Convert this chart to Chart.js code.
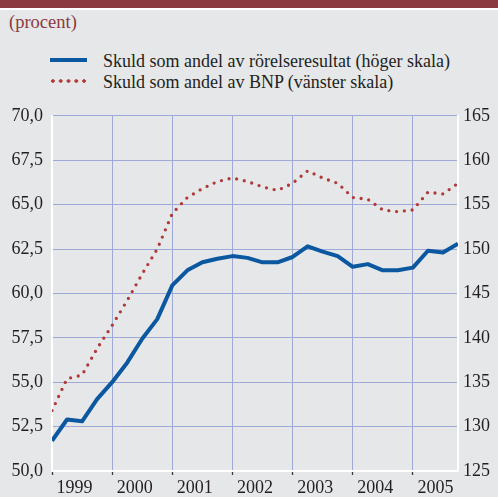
<!DOCTYPE html>
<html lang="sv">
<head>
  <meta charset="UTF-8">
  <title>Skuld som andel</title>
  <script src="https://cdn.jsdelivr.net/npm/chart.js"></script>
  <style>
    body {
      margin: 0;
      width: 498px;
      height: 497px;
      background: #e6e7e9;
      font-family: 'Liberation Serif', 'Times New Roman', serif;
      position: relative;
      overflow: hidden;
    }
    .topbar {
      position: absolute; left: 0; top: 0; width: 498px; height: 8px;
      background: #8b3a3f;
      border-bottom: 2px solid #ffffff;
    }
    .unit {
      position: absolute; left: 9px; top: 12px;
      font-size: 18.5px; line-height: 20px; color: #8b3a3f;
    }
    .leg {
      position: absolute; left: 103px;
      font-size: 18px; color: #231f20;
      line-height: 20px;
    }
    .swatch-line {
      position: absolute; left: 50px; top: 58px; width: 37px; height: 4px;
      background: #0b57a0;
    }
    .swatch-dots {
      position: absolute; left: 49px; top: 79px; width: 40px; height: 4px;
      background: radial-gradient(circle, #b0393a 1.5px, transparent 2px);
      background-size: 7.8px 4px;
    }
    #chart {
      position: absolute; left: 0; top: 97px;
    }
  </style>
</head>
<body>
  <div class="topbar"></div>
  <div class="unit">(procent)</div>
  <div class="swatch-line"></div>
  <div class="leg" style="top:51px">Skuld som andel av rörelseresultat (höger skala)</div>
  <div class="swatch-dots"></div>
  <div class="leg" style="top:71.5px">Skuld som andel av BNP (vänster skala)</div>
  <canvas id="chart" width="498" height="400"></canvas>

  <script>
    // quarters 1999 Q1 .. 2005 Q4
    const years = ['1999', '2000', '2001', '2002', '2003', '2004', '2005'];

    // Skuld som andel av rörelseresultat (höger skala)
    const debtToProfit = [
      128.4, 130.8, 130.6, 133.1,
      135.0, 137.2, 139.9, 142.1,
      145.9, 147.6, 148.5, 148.9,
      149.2, 149.0, 148.5, 148.5,
      149.1, 150.3, 149.7, 149.2,
      148.0, 148.3, 147.6, 147.6,
      147.9, 149.8, 149.6, 150.6
    ];

    // Skuld som andel av BNP (vänster skala)
    const debtToGdp = [
      53.4, 55.2, 55.4, 56.9,
      58.2, 59.6, 61.1, 62.5,
      64.5, 65.4, 65.9, 66.3,
      66.5, 66.3, 66.0, 65.8,
      66.2, 66.9, 66.5, 66.2,
      65.4, 65.3, 64.7, 64.6,
      64.7, 65.7, 65.6, 66.2
    ];

    const gridBlue = '#9fa9d8';
    const textColor = '#231f20';
    const tickFont = { family: "'Liberation Serif', 'Times New Roman', serif", size: 18 };

    const points = arr => arr.map((v, i) => ({ x: i, y: v }));

    const canvas = document.getElementById('chart');
    const chart = new Chart(canvas, {
      type: 'line',
      data: {
        datasets: [
          {
            label: 'Skuld som andel av BNP (vänster skala)',
            data: points(debtToGdp),
            yAxisID: 'yLeft',
            xAxisID: 'x',
            borderColor: '#b0393a',
            borderWidth: 3.3,
            borderDash: [0, 7.8],
            borderCapStyle: 'round',
            pointRadius: 0,
            tension: 0
          },
          {
            label: 'Skuld som andel av rörelseresultat (höger skala)',
            data: points(debtToProfit),
            yAxisID: 'yRight',
            xAxisID: 'x',
            borderColor: '#0b57a0',
            borderWidth: 4,
            borderJoinStyle: 'round',
            pointRadius: 0,
            tension: 0
          }
        ]
      },
      options: {
        responsive: false,
        animation: false,
        layout: { padding: { top: 16, left: 0, right: 0, bottom: 0 } },
        plugins: { legend: { display: false }, tooltip: { enabled: false } },
        scales: {
          x: {
            type: 'linear', position: 'bottom', min: 0, max: 27,
            afterBuildTicks: s => { s.ticks = [0, 4, 8, 12, 16, 20, 24].map(v => ({ value: v })); },
            afterFit: s => { s.height = 5; },
            ticks: { display: false },
            grid: { color: gridBlue, lineWidth: 1, drawTicks: true, tickLength: 4, tickColor: '#3a3a3a', tickWidth: 1.3 },
            border: { color: '#ffffff', width: 2 }
          },
          xLabels: {
            type: 'linear', position: 'bottom', min: 0, max: 27,
            afterBuildTicks: s => { s.ticks = [2, 6, 10, 14, 18, 22].map(v => ({ value: v - 0.5 })).concat([{ value: 25.5 }]); },
            afterFit: s => { s.height = 20; },
            ticks: {
              color: textColor, font: tickFont, padding: 1, maxRotation: 0, autoSkip: false,
              callback: v => years[Math.min(6, Math.floor(v / 4))]
            },
            grid: { display: false, drawTicks: false },
            border: { display: false }
          },
          yLeft: {
            position: 'left', min: 50, max: 70,
            afterFit: s => { s.width = 52; },
            ticks: {
              stepSize: 2.5, color: textColor, font: tickFont, padding: 9,
              callback: v => v.toFixed(1).replace('.', ',')
            },
            grid: { color: gridBlue, lineWidth: 1, drawTicks: false },
            border: { color: '#ffffff', width: 2 }
          },
          yRight: {
            position: 'right', min: 125, max: 165,
            afterFit: s => { s.width = 40; },
            ticks: { stepSize: 5, color: textColor, font: tickFont, padding: 5 },
            grid: { display: false, drawTicks: false },
            border: { color: '#ffffff', width: 2 }
          }
        }
      }
    });

    // line the plot area up with the page: top edge at 116, bottom edge at 472
    const offsetTop = 116 - chart.chartArea.top;
    canvas.style.top = offsetTop + 'px';
    chart.resize(498, Math.round(497 - offsetTop));
  </script>
</body>
</html>
